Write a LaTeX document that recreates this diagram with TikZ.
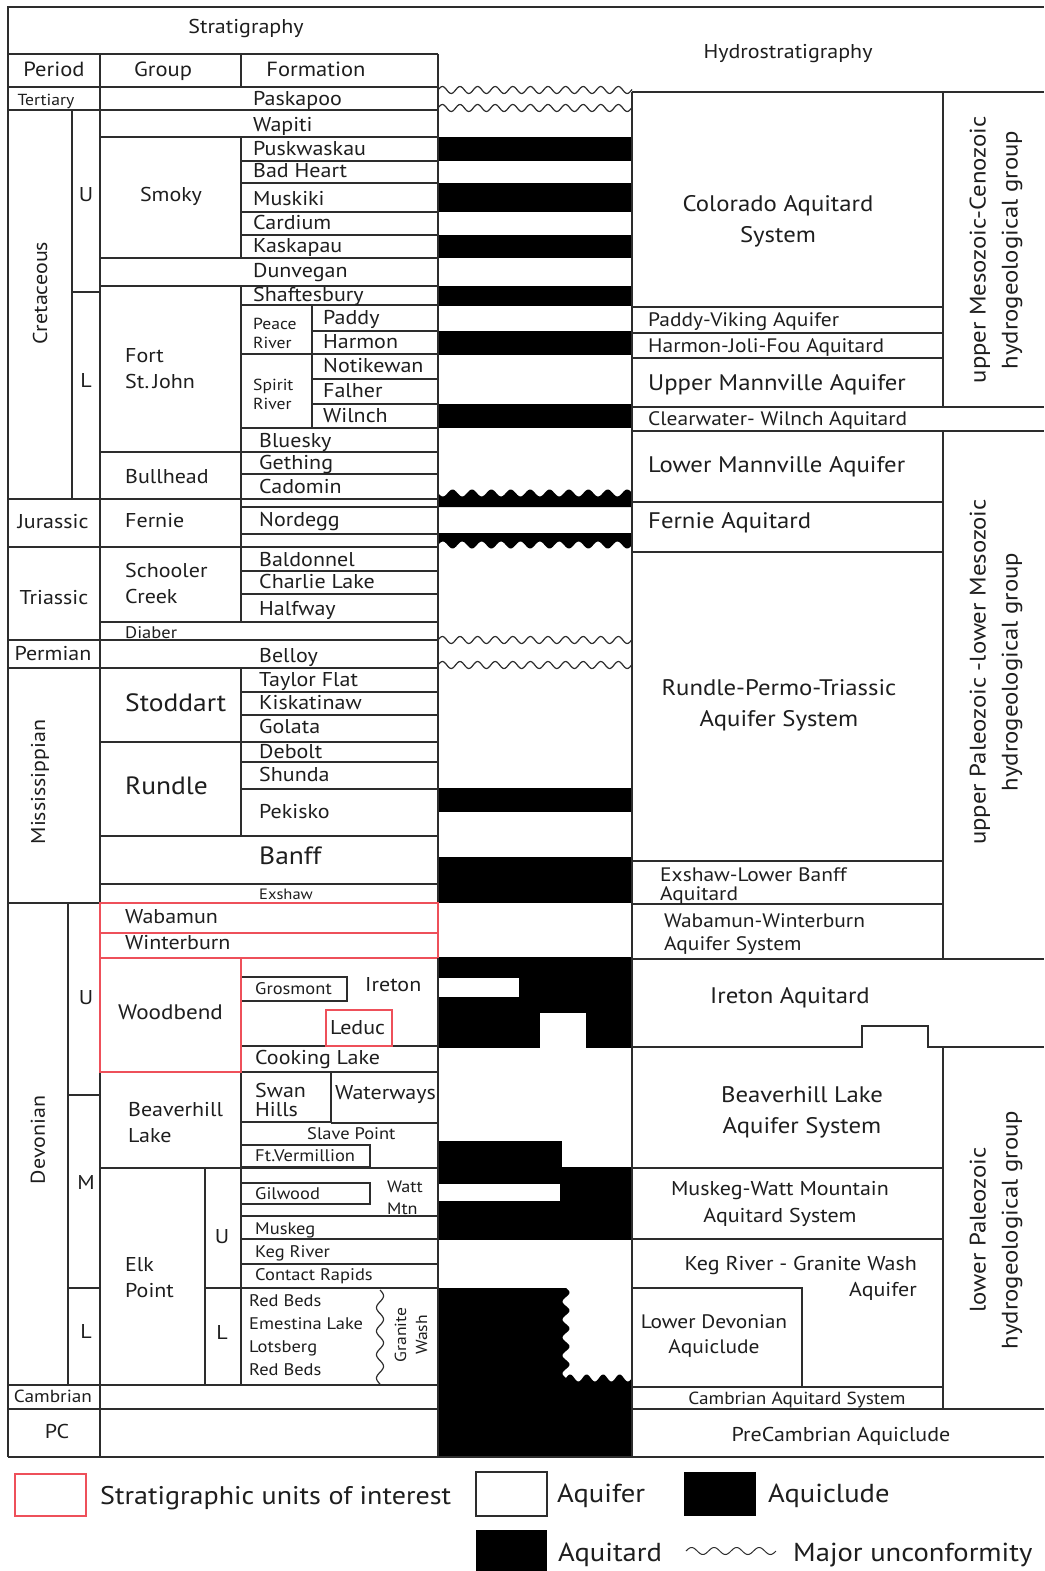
\documentclass[tikz,border=0pt]{standalone}
\usepackage{fontspec}
\setmainfont{PT Sans}[FakeStretch=1.1]
\definecolor{lnc}{RGB}{45,45,45}
\definecolor{rdc}{RGB}{238,80,90}
\definecolor{txc}{RGB}{30,30,30}
\newcommand\sizeF{\fontsize{20}{22}\selectfont}
\newcommand\sizeS{\fontsize{16.8}{19}\selectfont}
\newcommand\sizeL{\fontsize{22.5}{31}\selectfont}
\newcommand\sizeM{\fontsize{19.5}{23}\selectfont}
\newcommand\sizeG{\fontsize{25}{27}\selectfont}
\begin{document}
\begin{tikzpicture}[x=1pt,y=-1pt,
  ln/.style={line width=1.4pt, draw=lnc},
  rl/.style={line width=1.4pt, draw=rdc},
  wv/.style={line width=1.2pt, draw=lnc},
  tx/.style={inner sep=0pt, text=txc, text height=1.25em, text depth=0em},
  ft/.style={tx, anchor=west, font=\sizeF},
  fs/.style={tx, anchor=west, font=\sizeS},
  fc/.style={tx, font=\sizeF},
  ml/.style={inner sep=0pt, text=txc, align=left, anchor=west, yshift=-3pt},
  mc/.style={inner sep=0pt, text=txc, align=center, yshift=-3pt},
  rot/.style={inner sep=0pt, text=txc, align=center, rotate=90}
]
\useasboundingbox[fill=white] (0,0) rectangle (1044,1571);

% ---------------- middle column fills ----------------
\fill[black] (438,137) rectangle (632,161);
\fill[black] (438,183) rectangle (632,212);
\fill[black] (438,235) rectangle (632,258);
\fill[black] (438,286) rectangle (632,306);
\fill[black] (438,331) rectangle (632,355);
\fill[black] (438,404) rectangle (632,428);
\fill[black] (438,507) -- (632,507) -- plot[domain=632:438, samples=150] (\x,{493+3.5*sin((\x-438)/19.4*360)}) -- cycle;
\fill[black] (438,533) -- (632,533) -- plot[domain=632:438, samples=150] (\x,{545-3.5*sin((\x-438)/19.4*360)}) -- cycle;
\fill[black] (438,788) rectangle (632,812);
\fill[black] (438,857) rectangle (632,903);
\fill[black] (438,957) rectangle (632,1048);
\fill[white] (438,978) rectangle (519,997);
\fill[white] (540,1013) rectangle (586,1049);
\fill[black] (438,1141) rectangle (562,1168);
\fill[black] (438,1167) rectangle (632,1240);
\fill[white] (438,1184) rectangle (560,1201);
\fill[black] (438,1288) -- (566,1288) -- plot[domain=1288:1378, samples=100] ({566+3.5*sin((\x-1288)/18*360)},\x) -- plot[domain=566:632, samples=80] (\x,{1378-3.5*sin((\x-566)/16.5*360)}) -- (632,1457) -- (438,1457) -- cycle;

% unconformities
\draw[wv] plot[domain=438:632, samples=160] (\x,{90-3.5*sin((\x-438)/17.6*360)});
\draw[wv] plot[domain=438:632, samples=160] (\x,{108-3.5*sin((\x-438)/17.6*360)});
\draw[wv] plot[domain=438:632, samples=160] (\x,{640-3.5*sin((\x-438)/17.6*360)});
\draw[wv] plot[domain=438:632, samples=160] (\x,{665-3.5*sin((\x-438)/17.6*360)});

% ---------------- stratigraphy table ----------------
\draw[ln] (8,1457) -- (8,7) -- (1044,7);
\draw[ln] (438,54) -- (438,1457);
\draw[ln] (100,54) -- (100,1457);
\draw[ln] (241,54) -- (241,87);
\draw[ln] (241,137) -- (241,258);
\draw[ln] (241,286) -- (241,499);
\draw[ln] (241,499) -- (241,547);
\draw[ln] (241,547) -- (241,622);
\draw[ln] (241,668) -- (241,836);
\draw[ln] (241,1072) -- (241,1385);
\draw[ln] (72,110) -- (72,499);
\draw[ln] (68,903) -- (68,1385);
\draw[ln] (205,1168) -- (205,1385);
\draw[ln] (312,305) -- (312,428);

\foreach \yy in {54,87,110,499,547,640,668,903,1385,1409} \draw[ln] (8,\yy) -- (438,\yy);
\foreach \yy in {137,258,286,452,622,742,836,884,1168} \draw[ln] (100,\yy) -- (438,\yy);
\foreach \yy in {161,183,212,235,305,354,428,474,507,534,571,594,692,715,762,789,1046,1072,1216,1239,1264} \draw[ln] (241,\yy) -- (438,\yy);
\foreach \yy in {331,379,404} \draw[ln] (312,\yy) -- (438,\yy);
\draw[ln] (72,292) -- (100,292);
\draw[ln] (68,1095) -- (100,1095);
\draw[ln] (68,1288) -- (100,1288);
\draw[ln] (205,1288) -- (438,1288);
\draw[ln] (241,977) rectangle (347,1001);
\draw[ln] (241,1072) rectangle (331,1122);
\draw[ln] (331,1123) -- (438,1123);
\draw[ln] (241,1145) rectangle (370,1167);
\draw[ln] (241,1183) rectangle (370,1204);
\draw[wv] plot[domain=1290:1384, samples=100] ({380+3.5*sin((\x-1290)/23.5*360)},\x);

% red units
\draw[rl] (100,903) rectangle (438,933);
\draw[rl] (100,933) rectangle (438,958);
\draw[rl] (100,958) rectangle (241,1072);
\draw[rl] (326,1010) rectangle (392,1046);
\draw[ln] (438,958) -- (438,1072);

% ---------------- hydrostratigraphy ----------------
\draw[ln] (632,92) -- (632,1457);
\draw[ln] (632,92) -- (1044,92);
\draw[ln] (943,92) -- (943,407);
\draw[ln] (943,431) -- (943,959);
\draw[ln] (943,1047) -- (943,1409);
\foreach \yy in {307,333,358,502,552,861,904,1168,1239,1387} \draw[ln] (632,\yy) -- (943,\yy);
\foreach \yy in {407,431,959,1409} \draw[ln] (632,\yy) -- (1044,\yy);
\draw[ln] (632,1047) -- (862,1047) -- (862,1026) -- (928,1026) -- (928,1047) -- (1044,1047);
\draw[ln] (632,1288) -- (802,1288) -- (802,1387);
\draw[ln] (8,1457) -- (1044,1457);

% ---------------- texts: headers ----------------
\node[fc] (hStrat) at (246,27) {Stratigraphy};
\node[fc,font=\fontsize{20}{22}\selectfont] (hHydro) at (788,52) {Hydrostratigraphy};
\node[fc,font=\fontsize{20.5}{22}\selectfont] (hPer) at (54,70) {Period};
\node[fc,font=\fontsize{20.5}{22}\selectfont] (hGrp) at (163,70) {Group};
\node[fc,font=\fontsize{20.5}{22}\selectfont] (hFor) at (316,70) {Formation};

% periods
\node[tx,font=\fontsize{16}{18}\selectfont] (pTer) at (46,99) {Tertiary};
\node[rot,font=\sizeF] (pCre) at (40,293) {Cretaceous};
\node[fc] (pCU) at (86,195) {U};
\node[fc] (pCL) at (86,381) {L};
\node[fc] (pJur) at (53,522) {Jurassic};
\node[fc] (pTri) at (54,598) {Triassic};
\node[fc] (pPer) at (53,654) {Permian};
\node[rot,font=\sizeF] (pMis) at (40,782) {Mississippian};
\node[rot,font=\sizeF] (pDev) at (38,1140) {Devonian};
\node[fc] (pDU) at (86,998) {U};
\node[fc] (pDM) at (86,1183) {M};
\node[fc] (pDL) at (86,1332) {L};
\node[tx,font=\fontsize{17.5}{19}\selectfont] (pCam) at (53,1396) {Cambrian};
\node[fc] (pPC) at (57,1432) {PC};

% groups
\node[fc] (gSmo) at (171,195) {Smoky};
\node[ml,font=\fontsize{20}{26}\selectfont] (gFSJ) at (125,366) {Fort\\St.\,John};
\node[ft] (gBul) at (125,477) {Bullhead};
\node[ft] (gFer) at (125,521) {Fernie};
\node[ml,font=\fontsize{20}{26}\selectfont] (gSch) at (125,580) {Schooler\\Creek};
\node[fs] (gDia) at (125,632) {Diaber};
\node[ft,font=\sizeG] (gSto) at (125,705) {Stoddart};
\node[ft,font=\sizeG] (gRun) at (125,788) {Rundle};
\node[ft] (gWab) at (125,917) {Wabamun};
\node[ft] (gWin) at (125,943) {Winterburn};
\node[ft,font=\fontsize{21}{23}\selectfont] (gWoo) at (118,1013) {Woodbend};
\node[ml,font=\fontsize{20}{26}\selectfont] (gBea) at (128,1120) {Beaverhill\\Lake};
\node[ml,font=\fontsize{20}{26}\selectfont] (gElk) at (125,1275) {Elk\\Point};
\node[fc] (gEU) at (222,1237) {U};
\node[fc] (gEL) at (222,1333) {L};

% formations
\node[ft] (fPas) at (253,99) {Paskapoo};
\node[ft] (fWap) at (253,125) {Wapiti};
\node[ft] (fPus) at (253,149) {Puskwaskau};
\node[ft] (fBad) at (253,171) {Bad Heart};
\node[ft] (fMus) at (253,199) {Muskiki};
\node[ft] (fCar) at (253,223) {Cardium};
\node[ft] (fKas) at (253,246) {Kaskapau};
\node[ft] (fDun) at (253,271) {Dunvegan};
\node[ft] (fSha) at (253,295) {Shaftesbury};
\node[ml,font=\fontsize{16}{19}\selectfont] (fPea) at (253,330) {Peace\\River};
\node[ft] (fPad) at (323,318) {Paddy};
\node[ft] (fHar) at (323,342) {Harmon};
\node[ml,font=\fontsize{16}{19}\selectfont] (fSpi) at (253,391) {Spirit\\River};
\node[ft] (fNot) at (323,366) {Notikewan};
\node[ft] (fFal) at (323,391) {Falher};
\node[ft] (fWil) at (323,416) {Wilnch};
\node[ft] (fBlu) at (259,441) {Bluesky};
\node[ft] (fGet) at (259,463) {Gething};
\node[ft] (fCad) at (259,487) {Cadomin};
\node[ft] (fNor) at (259,520) {Nordegg};
\node[ft] (fBal) at (259,560) {Baldonnel};
\node[ft] (fCha) at (259,582) {Charlie Lake};
\node[ft] (fHal) at (259,609) {Halfway};
\node[ft] (fBel) at (259,656) {Belloy};
\node[ft] (fTay) at (259,680) {Taylor Flat};
\node[ft] (fKis) at (259,703) {Kiskatinaw};
\node[ft] (fGol) at (259,727) {Golata};
\node[ft] (fDeb) at (259,752) {Debolt};
\node[ft] (fShu) at (259,775) {Shunda};
\node[ft] (fPek) at (259,812) {Pekisko};
\node[ft,font=\sizeG] (fBan) at (259,858) {Banff};
\node[fs,font=\fontsize{15}{17}\selectfont] (fExs) at (259,893) {Exshaw};
\node[fs] (fGro) at (255,988) {Grosmont};
\node[ft] (fIre) at (365,985) {Ireton};
\node[ft] (fLed) at (330,1028) {Leduc};
\node[ft] (fCoo) at (255,1058) {Cooking Lake};
\node[ml,font=\fontsize{20}{19}\selectfont] (fSwa) at (255,1097) {Swan\\Hills};
\node[ft] (fWat) at (335,1093) {Waterways};
\node[fs] (fSla) at (307,1133) {Slave Point};
\node[fs] (fFtV) at (255,1155) {Ft.Vermillion};
\node[fs] (fGil) at (255,1193) {Gilwood};
\node[ml,font=\fontsize{16.5}{22}\selectfont] (fWMt) at (387,1195) {Watt\\Mtn};
\node[fs] (fMsk) at (255,1228) {Muskeg};
\node[fs] (fKeg) at (255,1251) {Keg River};
\node[fs] (fCon) at (255,1274) {Contact Rapids};
\node[fs] (fRB1) at (249,1300) {Red Beds};
\node[fs] (fEme) at (249,1323) {Emestina Lake};
\node[fs] (fLot) at (249,1346) {Lotsberg};
\node[fs] (fRB2) at (249,1369) {Red Beds};
\node[rot,font=\fontsize{16}{21}\selectfont] (fGra) at (411,1335) {Granite\\Wash};

% hydro units
\node[mc,font=\sizeL] (hCol) at (778,218) {Colorado Aquitard\\System};
\node[ft,font=\sizeM] (hPad) at (648,320) {Paddy-Viking Aquifer};
\node[ft,font=\sizeM] (hHar) at (648,346) {Harmon-Joli-Fou Aquitard};
\node[ft,font=\sizeL] (hUMa) at (648,384) {Upper Mannville Aquifer};
\node[ft,font=\sizeM] (hCle) at (648,419) {Clearwater- Wilnch Aquitard};
\node[ft,font=\sizeL] (hLMa) at (648,466) {Lower Mannville Aquifer};
\node[ft,font=\sizeL] (hFer) at (648,522) {Fernie Aquitard};
\node[mc,font=\sizeL] (hRun) at (779,702) {Rundle-Permo-Triassic\\Aquifer System};
\node[ml,font=\fontsize{19.5}{19}\selectfont] (hExs) at (660,883) {Exshaw-Lower Banff\\Aquitard};
\node[ml,font=\fontsize{19.5}{23}\selectfont] (hWab) at (664,931) {Wabamun-Winterburn\\Aquifer System};
\node[mc,font=\sizeL] (hIre) at (790,995) {Ireton Aquitard};
\node[mc,font=\sizeL] (hBea) at (802,1109) {Beaverhill Lake\\Aquifer System};
\node[mc,font=\fontsize{20}{27}\selectfont] (hMus) at (780,1201) {Muskeg-Watt Mountain\\Aquitard System};
\node[inner sep=0pt, text=txc, align=right, anchor=east, yshift=-3pt, font=\fontsize{20}{26}\selectfont] (hKeg) at (917,1275) {Keg River - Granite Wash\\Aquifer};
\node[mc,font=\fontsize{19.5}{25}\selectfont] (hLDe) at (714,1333) {Lower Devonian\\Aquiclude};
\node[mc,font=\fontsize{17.5}{18}\selectfont] (hCam) at (797,1397) {Cambrian Aquitard System};
\node[mc,font=\fontsize{20}{22}\selectfont] (hPre) at (841,1433) {PreCambrian Aquiclude};
\node[rot,font=\fontsize{22.5}{32}\selectfont] (rUpM) at (996,250) {upper Mesozoic-Cenozoic\\hydrogeological group};
\node[rot,font=\fontsize{22.5}{32}\selectfont] (rUpP) at (996,672) {upper Paleozoic -lower Mesozoic\\hydrogeological group};
\node[rot,font=\fontsize{22.5}{32}\selectfont] (rLoP) at (996,1230) {lower Paleozoic\\hydrogeological group};

% ---------------- legend ----------------
\draw[rl] (15,1474) rectangle (86,1516);
\node[ft,font=\fontsize{25.5}{27}\selectfont] (lSU) at (100,1498) {Stratigraphic units of interest};
\draw[ln,fill=white] (476,1472) rectangle (547,1516);
\node[ft,font=\fontsize{26}{27}\selectfont] (lAqf) at (557,1496) {Aquifer};
\fill[black] (684,1472) rectangle (756,1516);
\node[ft,font=\fontsize{26}{27}\selectfont] (lAqc) at (768,1496) {Aquiclude};
\fill[black] (476,1530) rectangle (547,1571);
\node[ft,font=\fontsize{26}{27}\selectfont] (lAqt) at (558,1555) {Aquitard};
\draw[wv,line width=1pt] plot[domain=686:776, samples=100] (\x,{1551-3.5*sin((\x-686)/22.5*360)});
\node[ft,font=\fontsize{26}{27}\selectfont] (lUnc) at (793,1555) {Major unconformity};
\end{tikzpicture}
\end{document}
